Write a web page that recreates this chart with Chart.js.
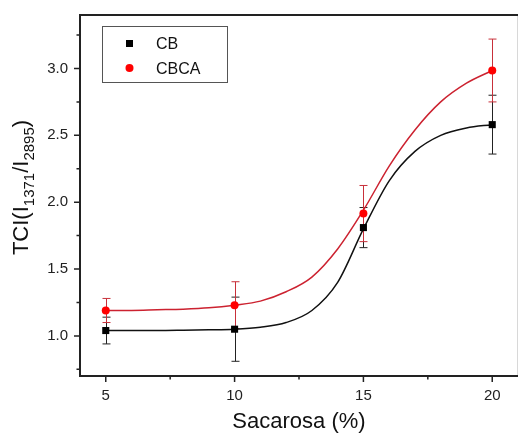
<!DOCTYPE html>
<html>
<head>
<meta charset="utf-8">
<script src="https://cdn.jsdelivr.net/npm/chart.js@4"></script>
<style>
  html, body { margin:0; padding:0; background:#fff; }
</style>
</head>
<body>
<canvas id="chart" width="523" height="438"></canvas>
<script>
/* TCI vs Sacarosa */
const sacarosa = [5, 10, 15, 20];
const cbValues = [1.04, 1.05, 1.81, 2.58];
const cbErrors = [0.10, 0.24, 0.15, 0.22];
const cbcaValues = [1.19, 1.23, 1.915, 2.985];
const cbcaErrors = [0.09, 0.175, 0.21, 0.235];

// fitted curves
const fitX = [5, 6, 7, 8, 9, 10, 11, 12, 13, 14, 15, 16, 17, 18, 19, 20];
const cbFit = [1.04, 1.04, 1.04, 1.042, 1.045, 1.05, 1.065, 1.10, 1.19, 1.40, 1.80, 2.16, 2.38, 2.50, 2.555, 2.58];
const cbcaFit = [1.19, 1.19, 1.195, 1.20, 1.21, 1.23, 1.26, 1.33, 1.44, 1.65, 1.94, 2.27, 2.54, 2.75, 2.89, 2.985];

const xMajor = [5, 10, 15, 20];
const xMinor = [7.5, 12.5, 17.5];
const yMajor = [1.0, 1.5, 2.0, 2.5, 3.0];
const yMinor = [0.75, 1.25, 1.75, 2.25, 2.75, 3.25];

const FONT = 'Arial, "Liberation Sans", sans-serif';
const RED = '#ff0000';
const RED_LINE = '#cc2230';

const pts = (xs, ys) => xs.map((x, i) => ({ x, y: ys[i] }));

const errorBars = {
  id: 'errorBars',
  beforeDatasetsDraw(chart) {
    const { ctx, scales: { x, y } } = chart;
    const sets = [
      { vals: cbValues, errs: cbErrors, color: '#222' },
      { vals: cbcaValues, errs: cbcaErrors, color: '#c8303a' }
    ];
    ctx.save();
    ctx.lineWidth = 1;
    sets.forEach(s => {
      ctx.strokeStyle = s.color;
      sacarosa.forEach((xv, i) => {
        const px = Math.round(x.getPixelForValue(xv)) + 0.5;
        const top = y.getPixelForValue(s.vals[i] + s.errs[i]);
        const bot = y.getPixelForValue(s.vals[i] - s.errs[i]);
        ctx.beginPath();
        ctx.moveTo(px, top); ctx.lineTo(px, bot);
        ctx.moveTo(px - 4, top); ctx.lineTo(px + 4, top);
        ctx.moveTo(px - 4, bot); ctx.lineTo(px + 4, bot);
        ctx.stroke();
      });
    });
    ctx.restore();
  }
};

const frame = {
  id: 'frame',
  afterDraw(chart) {
    const { ctx, chartArea: a, scales: { x, y } } = chart;
    ctx.save();
    // faint right edge
    ctx.strokeStyle = '#d8d8d8';
    ctx.lineWidth = 1;
    ctx.beginPath(); ctx.moveTo(a.right - 0.5, a.top); ctx.lineTo(a.right - 0.5, a.bottom); ctx.stroke();
    // axes
    ctx.strokeStyle = '#222';
    ctx.lineWidth = 2;
    ctx.beginPath();
    ctx.moveTo(a.left, a.bottom); ctx.lineTo(a.left, a.top - 1);
    ctx.moveTo(a.left - 1, a.top); ctx.lineTo(a.right, a.top);
    ctx.moveTo(a.left - 1, a.bottom); ctx.lineTo(a.right, a.bottom);
    ctx.stroke();
    // ticks
    ctx.lineWidth = 1.5;
    ctx.beginPath();
    xMajor.forEach(v => { const p = x.getPixelForValue(v); ctx.moveTo(p, a.bottom); ctx.lineTo(p, a.bottom + 6); });
    xMinor.forEach(v => { const p = x.getPixelForValue(v); ctx.moveTo(p, a.bottom); ctx.lineTo(p, a.bottom + 3.5); });
    yMajor.forEach(v => { const p = y.getPixelForValue(v); ctx.moveTo(a.left, p); ctx.lineTo(a.left - 6, p); });
    yMinor.forEach(v => { const p = y.getPixelForValue(v); ctx.moveTo(a.left, p); ctx.lineTo(a.left - 3.5, p); });
    ctx.stroke();

    // y axis title with subscripts
    const parts = [
      { t: 'TCI(I', s: 22, dy: 0 },
      { t: '1371', s: 15, dy: 6 },
      { t: '/I', s: 22, dy: 0 },
      { t: '2895', s: 15, dy: 6 },
      { t: ')', s: 22, dy: 0 }
    ];
    let w = 0;
    parts.forEach(p => { ctx.font = `${p.s}px ${FONT}`; p.w = ctx.measureText(p.t).width; w += p.w; });
    ctx.translate(28, (a.top + a.bottom) / 2 - 8);
    ctx.rotate(-Math.PI / 2);
    ctx.fillStyle = '#111';
    ctx.textBaseline = 'alphabetic';
    let cx = -w / 2;
    parts.forEach(p => { ctx.font = `${p.s}px ${FONT}`; ctx.fillText(p.t, cx, p.dy); cx += p.w; });
    ctx.restore();

    // x axis title
    ctx.save();
    ctx.font = `22px ${FONT}`;
    ctx.fillStyle = '#111';
    ctx.textAlign = 'center';
    ctx.textBaseline = 'alphabetic';
    ctx.fillText('Sacarosa (%)', (a.left + a.right) / 2, 428);
    ctx.restore();

    // legend box
    ctx.save();
    const lx = a.left + 23, ly = a.top + 11;
    ctx.strokeStyle = '#555';
    ctx.lineWidth = 1;
    ctx.strokeRect(lx - 0.5, ly + 0.5, 125, 56);
    ctx.fillStyle = '#000';
    ctx.fillRect(lx + 23, ly + 14, 7, 7);
    ctx.fillStyle = RED;
    ctx.beginPath(); ctx.arc(lx + 26.5, ly + 42, 4, 0, Math.PI * 2); ctx.fill();
    ctx.fillStyle = '#111';
    ctx.font = `16px ${FONT}`;
    ctx.textBaseline = 'alphabetic';
    ctx.fillText(chart.data.datasets[0].label, lx + 53, ly + 23);
    ctx.fillText(chart.data.datasets[1].label, lx + 53, ly + 48);
    ctx.restore();
  }
};

new Chart(document.getElementById('chart'), {
  type: 'scatter',
  data: {
    datasets: [
      { label: 'CB', data: pts(sacarosa, cbValues), pointStyle: 'rect', pointRadius: 5,
        backgroundColor: '#000', borderColor: '#000', borderWidth: 0, showLine: false, order: 0 },
      { label: 'CBCA', data: pts(sacarosa, cbcaValues), pointStyle: 'circle', pointRadius: 4,
        backgroundColor: RED, borderColor: RED, borderWidth: 0, showLine: false, order: 0 },
      { label: 'CB fit', data: pts(fitX, cbFit), showLine: true, pointRadius: 0,
        borderColor: '#111', borderWidth: 1.5, cubicInterpolationMode: 'monotone', order: 1 },
      { label: 'CBCA fit', data: pts(fitX, cbcaFit), showLine: true, pointRadius: 0,
        borderColor: RED_LINE, borderWidth: 1.5, cubicInterpolationMode: 'monotone', order: 1 }
    ]
  },
  options: {
    responsive: false,
    animation: false,
    devicePixelRatio: 1,
    layout: { padding: { top: 15, right: 1, left: 0, bottom: 0 } },
    plugins: { legend: { display: false }, tooltip: { enabled: false } },
    scales: {
      x: {
        type: 'linear', min: 4, max: 21,
        afterBuildTicks: s => { s.ticks = xMajor.concat(xMinor).sort((a, b) => a - b).map(v => ({ value: v })); },
        afterFit: s => { s.height = 62; s.paddingLeft = 0; s.paddingRight = 0; },
        grid: { display: false, drawTicks: false },
        border: { display: false },
        ticks: { autoSkip: false, maxRotation: 0, padding: 11, color: '#222',
          font: { family: FONT, size: 15 }, callback: v => xMajor.includes(v) ? String(v) : '' }
      },
      y: {
        type: 'linear', min: 0.7, max: 3.4,
        afterBuildTicks: s => { s.ticks = yMajor.concat(yMinor).sort((a, b) => a - b).map(v => ({ value: v })); },
        afterFit: s => { s.width = 80; s.paddingTop = 0; s.paddingBottom = 0; },
        grid: { display: false, drawTicks: false },
        border: { display: false },
        ticks: { autoSkip: false, padding: 12, color: '#222',
          font: { family: FONT, size: 15 }, callback: v => yMajor.includes(v) ? v.toFixed(1) : '' }
      }
    }
  },
  plugins: [errorBars, frame]
});
</script>
</body>
</html>
